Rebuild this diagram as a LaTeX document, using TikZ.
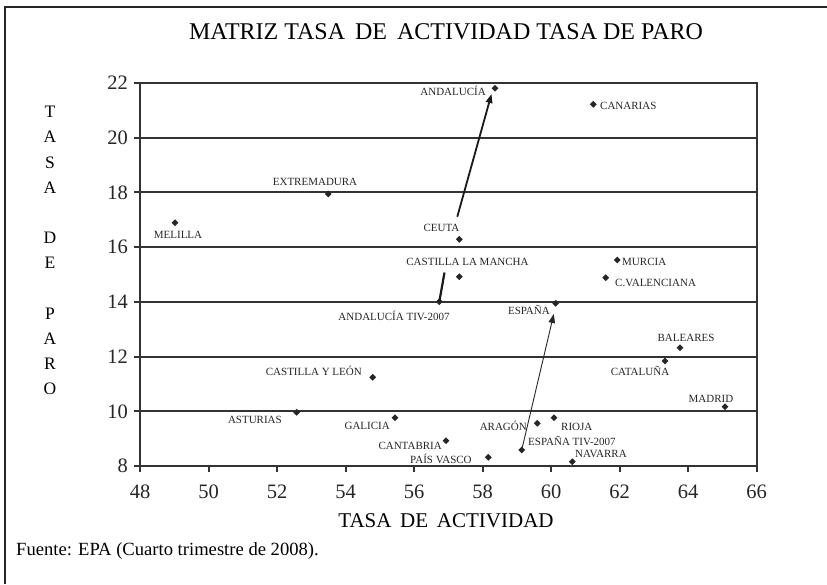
\documentclass[tikz,border=0pt]{standalone}
\usepackage{fontspec}
\setmainfont{Liberation Serif}
\usetikzlibrary{shapes.geometric,arrows.meta}
\begin{document}
\begin{tikzpicture}[x=1pt,y=-1pt,
  frameline/.style={line width=1.6pt,black!85},
  axisline/.style={line width=2pt,black!80},
  gridline/.style={line width=2pt,black!80},
  ticklab/.style={font=\fontsize{20.5}{20.5}\selectfont,inner sep=0pt,text=black!85},
  ylet/.style={font=\fontsize{17.5}{17.5}\selectfont,inner sep=0pt},
  pt/.style={diamond,fill=black!85,inner sep=0pt,minimum size=7pt},
  lab/.style={font=\fontsize{11}{11}\selectfont,inner sep=0pt,text height=0.7em,text depth=0pt,text=black!85},
  bigarrow/.style={line width=1.8pt,black!90,-{Triangle[length=9pt,width=6.5pt]}},
  thinarrow/.style={line width=0.9pt,black!85,-{Triangle[length=9pt,width=6.5pt]}}]
\useasboundingbox (0,0) rectangle (827,584);
\fill[white] (0,0) rectangle (827,584);
% frame
\draw[frameline] (5,584) -- (5,7) -- (827,7);
% title
\node[inner sep=0pt,font=\fontsize{24}{24}\selectfont] (title) at (446,32) {MATRIZ TASA\, DE\, ACTIVIDAD TASA DE PARO};
% plot box and grid
\foreach \k in {1,...,6}{
  \draw[gridline] (140,{466-\k*54.72}) -- (756.7,{466-\k*54.72});
}
\draw[axisline] (140,82.96) rectangle (756.7,466);
% y ticks and labels
\foreach \k/\v in {0/8,1/10,2/12,3/14,4/16,5/18,6/20,7/22}{
  \draw[axisline] (134,{466-\k*54.72}) -- (140,{466-\k*54.72});
  \node[ticklab,anchor=east] (yt\v) at (128,{466-\k*54.72}) {\v};
}
% x ticks and labels
\foreach \k/\v in {0/48,1/50,2/52,3/54,4/56,5/58,6/60,7/62,8/64,9/66}{
  \draw[axisline] ({140+\k*68.52},466) -- ({140+\k*68.52},472);
  \node[ticklab] (xt\v) at ({140+\k*68.52},492) {\v};
}
% axis titles
\node[inner sep=0pt,font=\fontsize{21}{21}\selectfont] (xtitle) at (446,521) {TASA\, DE\, ACTIVIDAD};
\foreach \i/\c in {0/T,1/A,2/S,3/A,5/D,6/E,8/P,9/A,10/R,11/O}{
  \node[ylet] (yl\i) at (50,{112+\i*25.2}) {\c};
}
% source
\node[inner sep=0pt,anchor=west,font=\fontsize{18.6}{18.6}\selectfont] (src) at (16,551) {Fuente: EPA (Cuarto trimestre de 2008).};
% data points
\node[pt] (and) at (495,88.3) {};
\node[pt] (can) at (593.3,104.3) {};
\node[pt] (ceu) at (459.3,239.3) {};
\node[pt] (ext) at (328.3,194) {};
\node[pt] (mel) at (175,222.7) {};
\node[pt] (clm) at (459.3,276.7) {};
\node[pt] (andtiv) at (439.3,301.7) {};
\node[pt] (esp) at (555.7,303.3) {};
\node[pt] (mur) at (617.3,260) {};
\node[pt] (val) at (605.7,277.7) {};
\node[pt] (bal) at (680,347.7) {};
\node[pt] (cat) at (665,361) {};
\node[pt] (mad) at (725,406.7) {};
\node[pt] (ara) at (537.3,423.3) {};
\node[pt] (rio) at (554,417.7) {};
\node[pt] (esptiv) at (521.7,450) {};
\node[pt] (nav) at (572.3,461.7) {};
\node[pt] (pva) at (488.3,457.3) {};
\node[pt] (ctb) at (446,440.7) {};
\node[pt] (gal) at (395,417.7) {};
\node[pt] (ast) at (296.7,412.3) {};
\node[pt] (cyl) at (372.7,377.3) {};
% labels
\node[lab,anchor=east] (landx) at (486,92) {ANDALUCÍA};
\node[lab,anchor=west] (lcan) at (600,106) {CANARIAS};
\node[lab] (lceu) at (441.5,228) {CEUTA};
\node[lab] (lext) at (315,182) {EXTREMADURA};
\node[lab] (lmel) at (178,235) {MELILLA};
\node[lab] (lclm) at (467.5,262) {CASTILLA LA MANCHA};
\node[lab] (landtiv) at (394,317) {ANDALUCÍA TIV-2007};
\node[lab,anchor=east] (lesp) at (550,311) {ESPAÑA};
\node[lab,anchor=west] (lmur) at (622,262) {MURCIA};
\node[lab,anchor=west] (lval) at (615,283) {C.VALENCIANA};
\node[lab] (lbal) at (686,338) {BALEARES};
\node[lab] (lcat) at (640,372) {CATALUÑA};
\node[lab] (lmad) at (711,399) {MADRID};
\node[lab,anchor=east] (lara) at (527,427) {ARAGÓN};
\node[lab,anchor=west] (lrio) at (561,427) {RIOJA};
\node[lab,anchor=west] (lesptiv) at (528,442) {ESPAÑA TIV-2007};
\node[lab,anchor=west] (lnav) at (575,454) {NAVARRA};
\node[lab,anchor=west] (lpva) at (410,460) {PAÍS VASCO};
\node[lab,anchor=east] (lctb) at (442,446) {CANTABRIA};
\node[lab,anchor=east] (lgal) at (390,426) {GALICIA};
\node[lab,anchor=east] (last) at (282,420) {ASTURIAS};
\node[lab,anchor=east] (lcyl) at (362,372) {CASTILLA Y LEÓN};
% arrows
\coordinate (a1m) at (444.5,272.5);
\coordinate (a1s) at (457.3,216.7);
\coordinate (a1e) at (491.5,94);
\coordinate (a2e) at (553.8,314);
\draw[line width=2.2pt,black!90] (andtiv.center) -- (a1m);
\draw[bigarrow] (a1s) -- (a1e);
\draw[thinarrow] (esptiv.center) -- (a2e);
\end{tikzpicture}
\end{document}
